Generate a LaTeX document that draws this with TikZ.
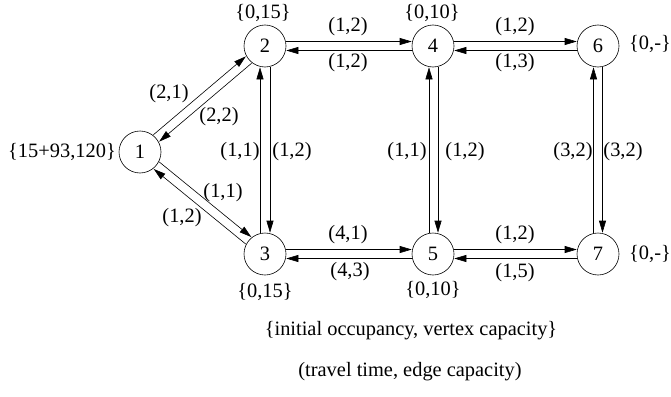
\documentclass[tikz,border=0pt]{standalone}
\usepackage{fontspec}
\setmainfont{Liberation Serif}
\usetikzlibrary{arrows.meta}
\begin{document}
\begin{tikzpicture}[x=1pt,y=-1pt,
  vtx/.style={draw, circle, minimum size=42pt, inner sep=0pt, line width=0.6pt},
  arr/.style={-{Triangle[length=12pt,width=7pt]}, line width=0.6pt},
  lbl/.style={inner sep=0pt},
  font=\fontsize{20.4}{24}\selectfont]
\useasboundingbox (0,0) rectangle (671,396);
% vertices
\node[vtx] (n1) at (140,152) {1};
\node[vtx] (n2) at (265,46) {2};
\node[vtx] (n3) at (265,254) {3};
\node[vtx] (n4) at (433,46) {4};
\node[vtx] (n5) at (433,254) {5};
\node[vtx] (n6) at (598,46) {6};
\node[vtx] (n7) at (598,254) {7};
% horizontal edges
\draw[arr, transform canvas={yshift=4.5pt}] (n2) -- (n4);
\draw[arr, transform canvas={yshift=-4.5pt}] (n4) -- (n2);
\draw[arr, transform canvas={yshift=4.5pt}] (n4) -- (n6);
\draw[arr, transform canvas={yshift=-4.5pt}] (n6) -- (n4);
\draw[arr, transform canvas={yshift=4.5pt}] (n3) -- (n5);
\draw[arr, transform canvas={yshift=-4.5pt}] (n5) -- (n3);
\draw[arr, transform canvas={yshift=4.5pt}] (n5) -- (n7);
\draw[arr, transform canvas={yshift=-4.5pt}] (n7) -- (n5);
% vertical edges
\draw[arr, transform canvas={xshift=-5pt}] (n3) -- (n2);
\draw[arr, transform canvas={xshift=5pt}] (n2) -- (n3);
\draw[arr, transform canvas={xshift=-4pt}] (n5) -- (n4);
\draw[arr, transform canvas={xshift=5pt}] (n4) -- (n5);
\draw[arr, transform canvas={xshift=-4.5pt}] (n7) -- (n6);
\draw[arr, transform canvas={xshift=4.5pt}] (n6) -- (n7);
% diagonal edges
\draw[arr, transform canvas={xshift=-2.9pt,yshift=3.4pt}] (n1) -- (n2);
\draw[arr, transform canvas={xshift=2.9pt,yshift=-3.4pt}] (n2) -- (n1);
\draw[arr, transform canvas={xshift=2.8pt,yshift=3.5pt}] (n1) -- (n3);
\draw[arr, transform canvas={xshift=-2.8pt,yshift=-3.5pt}] (n3) -- (n1);
% edge labels
\node[lbl] (l12a) at (169,94) {(2,1)};
\node[lbl] (l12b) at (219,117) {(2,2)};
\node[lbl] (l13a) at (223,193) {(1,1)};
\node[lbl] (l13b) at (182,218) {(1,2)};
\node[lbl] (l23a) at (240,152) {(1,1)};
\node[lbl] (l23b) at (292,152) {(1,2)};
\node[lbl] (l45a) at (407,152) {(1,1)};
\node[lbl] (l45b) at (465,152) {(1,2)};
\node[lbl] (l67a) at (573,152) {(3,2)};
\node[lbl] (l67b) at (623,152) {(3,2)};
\node[lbl] (l24a) at (348,27) {(1,2)};
\node[lbl] (l24b) at (348,63) {(1,2)};
\node[lbl] (l46a) at (515,27) {(1,2)};
\node[lbl] (l46b) at (515,63) {(1,3)};
\node[lbl] (l35a) at (348,235) {(4,1)};
\node[lbl] (l35b) at (350,272) {(4,3)};
\node[lbl] (l57a) at (515,235) {(1,2)};
\node[lbl] (l57b) at (515,273) {(1,5)};
% vertex labels
\node[lbl] (v1) at (62,152) {\{15+93,120\}};
\node[lbl] (v2) at (263,13) {\{0,15\}};
\node[lbl] (v4) at (432,13) {\{0,10\}};
\node[lbl] (v6) at (650,44) {\{0,-\}};
\node[lbl] (v7) at (650,254) {\{0,-\}};
\node[lbl] (v3) at (265,292) {\{0,15\}};
\node[lbl] (v5) at (433,290) {\{0,10\}};
% legend
\node[lbl] (leg1) at (411,331) {\{initial occupancy, vertex capacity\}};
\node[lbl] (leg2) at (410,372) {(travel time, edge capacity)};
\end{tikzpicture}
\end{document}
